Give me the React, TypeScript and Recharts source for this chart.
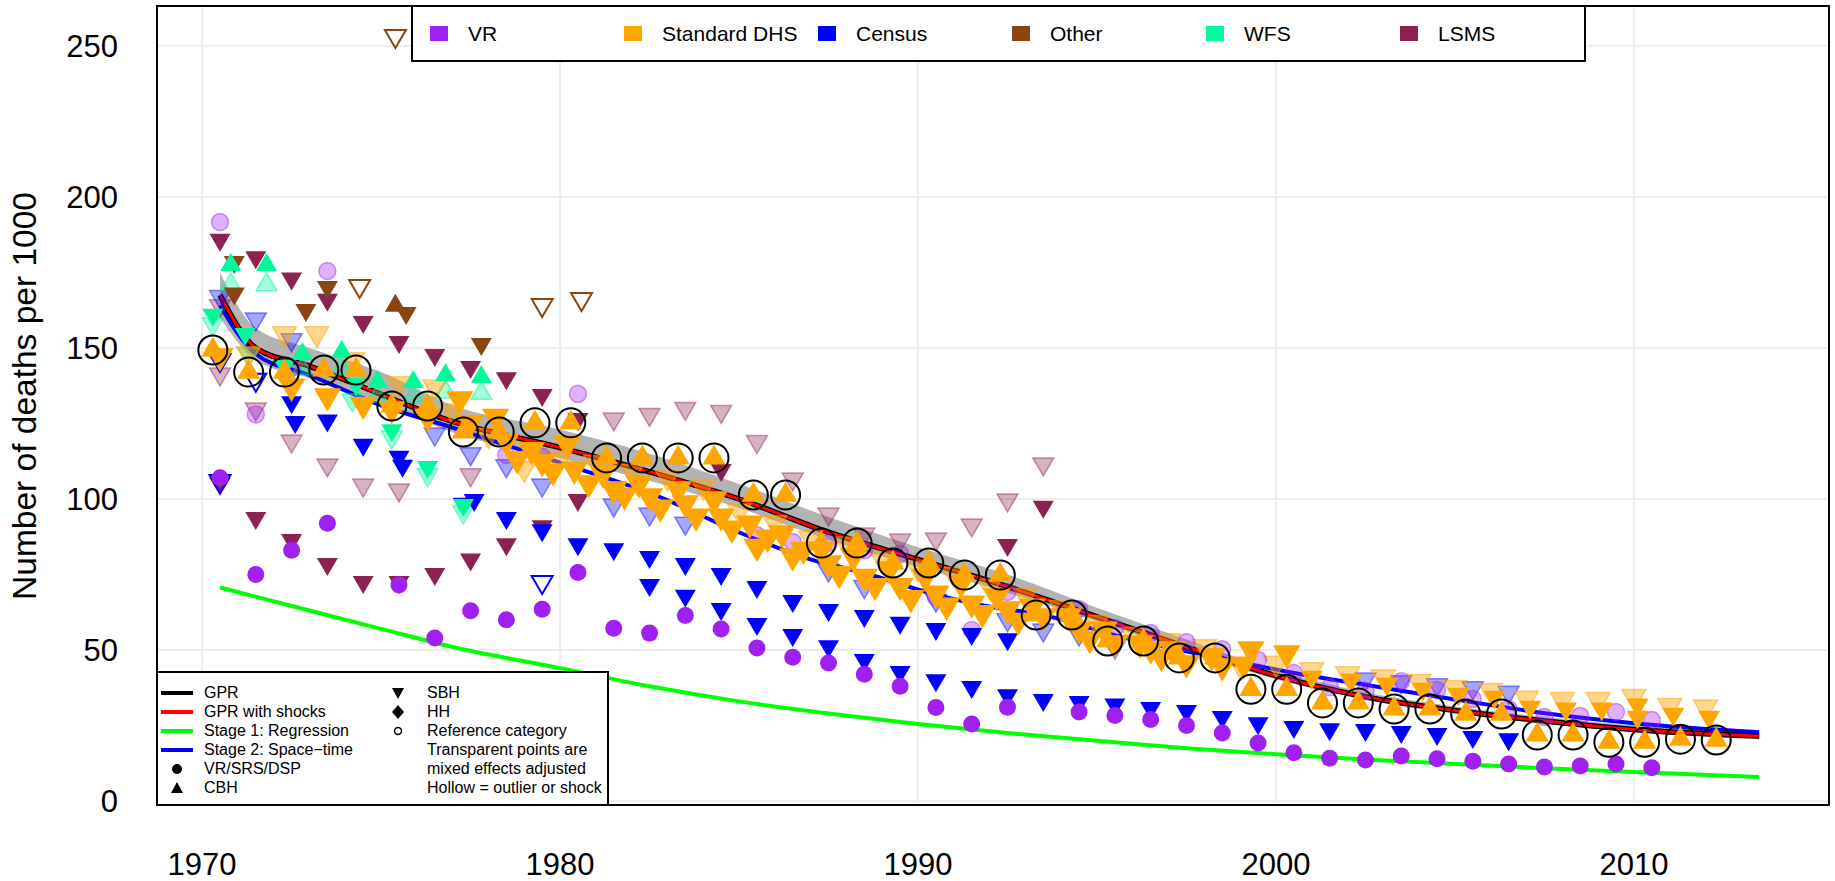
import React from "react";
import { ComposedChart, XAxis, YAxis, CartesianGrid, Line, Area, Scatter } from "recharts";

type Pt = [number, number];

const xTicks = [1970, 1980, 1990, 2000, 2010];
const yTicks = [0, 50, 100, 150, 200, 250];

// fitted curves
const gpr: Pt[] = [
  [1970.5, 167.5], [1971.5, 150], [1973, 144], [1974.3, 138], [1976.9, 126], [1980, 117],
  [1982.5, 109], [1985, 100], [1987.5, 89], [1990, 80], [1992.5, 71], [1995, 61],
  [1997.5, 51], [2000, 41.5], [2002.5, 34.5], [2005, 30], [2007.5, 26.5], [2010, 23.7], [2013.5, 21.5],
];
const gprShocks: Pt[] = [
  [1970.5, 167.5], [1971.5, 150], [1973, 144], [1974.3, 138], [1976.9, 126], [1980, 117],
  [1982.5, 109], [1985, 100], [1987.5, 89], [1990, 80], [1992.5, 71], [1995, 61],
  [1997.5, 51], [2000, 41.5], [2002.5, 34.5], [2005, 30], [2007.5, 26.5], [2010, 23.7], [2013.5, 21.5],
];
const stage1: Pt[] = [
  [1970.5, 70.7], [1972.7, 64], [1975, 57], [1977, 51], [1980, 44], [1982.5, 38], [1985, 33],
  [1987.5, 29], [1990, 25.5], [1992.5, 22.5], [1995, 20], [1997.5, 17.5], [2000, 15.5],
  [2002.5, 13.8], [2005, 12.3], [2007.5, 10.9], [2010, 9.6], [2013.5, 8.0],
];
const stage2: Pt[] = [
  [1970.5, 164], [1971.5, 148], [1973, 141], [1975, 131], [1976.9, 124], [1980, 112], [1982.5, 102],
  [1985.3, 87.5], [1987, 80], [1988.5, 75.5], [1990.3, 69], [1991.5, 65.5], [1993.7, 61],
  [1995.7, 54.3], [1998.7, 46.7], [2000.7, 42], [2002.5, 38.5], [2004.6, 34.4], [2007.9, 28.5],
  [2010, 25.8], [2013.5, 22.8],
];
const bandYears = [1970.5, 1971.5, 1973, 1975, 1977, 1980, 1982.5, 1985, 1987.5, 1990, 1992.5, 1995, 1997.5, 2000, 2002.5, 2005, 2007.5, 2010, 2013.5];
const bandLow = [160, 146, 140, 132, 122, 113.5, 106, 97, 86.5, 77.5, 69, 59.5, 49.5, 40.3, 33.5, 29, 25.6, 22.8, 20.5];
const bandHigh = [175, 156.5, 150, 142, 131, 123, 115, 105, 94, 84, 75, 64, 53.5, 43.3, 36, 31.3, 27.8, 25, 22.8];

// VR
const vrSolid: Pt[] = [
  [1970.5, 107], [1971.5, 75], [1972.5, 83], [1973.5, 92], [1975.5, 71.5], [1976.5, 54], [1977.5, 63],
  [1978.5, 60], [1979.5, 63.5], [1980.5, 75.7], [1981.5, 57.2], [1982.5, 55.6], [1983.5, 61.4],
  [1984.5, 57], [1985.5, 50.7], [1986.5, 47.6], [1987.5, 45.7], [1988.5, 42], [1989.5, 38],
  [1990.5, 31], [1991.5, 25.5], [1992.5, 31.1], [1994.5, 29.5], [1995.5, 28.3], [1996.5, 27],
  [1997.5, 25], [1998.5, 22.5], [1999.5, 19.2], [2000.5, 16], [2001.5, 14.2], [2002.5, 13.6],
  [2003.5, 14.9], [2004.5, 14], [2005.5, 13.2], [2006.5, 12.3], [2007.5, 11.3], [2008.5, 11.6],
  [2009.5, 12.3], [2010.5, 11],
];
const vrAdj: Pt[] = [
  [1970.5, 191.7], [1971.5, 128], [1972.5, 143.4], [1973.5, 175.5], [1978.5, 114.6], [1979.5, 114],
  [1980.5, 134.8], [1985.5, 88], [1986.5, 85.8], [1987.5, 85.4], [1988.5, 83], [1989.5, 81.8],
  [1990.5, 67.5], [1991.5, 56.6], [1992.5, 69.2], [1994.5, 63.6], [1995.5, 57.3], [1996.5, 55.6],
  [1997.5, 52.6], [1998.5, 50.3], [1999.5, 46.7], [2000.5, 42.4], [2001.5, 37.7], [2002.5, 36.4],
  [2003.5, 39.7], [2004.5, 36.8], [2005.5, 33.8], [2006.5, 30.5], [2007.5, 27.8], [2008.5, 28.2],
  [2009.5, 29.5], [2010.5, 26.8],
];

// Census
const censusSolid: Pt[] = [
  [1972.5, 131], [1972.6, 124.5], [1973.5, 125], [1974.5, 117], [1975.5, 113], [1975.6, 110],
  [1977.6, 98.7], [1977.3, 97.4], [1978.5, 92.7], [1979.5, 88.7], [1980.5, 84], [1981.5, 82.4],
  [1982.5, 79.8], [1982.5, 70.5], [1983.5, 77.5], [1983.5, 67], [1984.5, 74.2], [1984.5, 62.6],
  [1985.5, 69.9], [1985.5, 57.6], [1986.5, 65.2], [1986.5, 54], [1987.5, 62.3], [1987.5, 50.3],
  [1988.5, 60.3], [1988.5, 45.7], [1989.5, 58], [1989.5, 41.7], [1990.5, 56], [1990.5, 39],
  [1991.5, 54.3], [1991.5, 36.8], [1992.5, 52.6], [1992.5, 34], [1993.5, 32.5], [1994.5, 31.8],
  [1995.5, 31], [1996.5, 29.8], [1997.5, 28.8], [1998.5, 26.8], [1999.5, 24.8], [2000.5, 23.5],
  [2001.5, 22.8], [2002.5, 22.5], [2003.5, 21.9], [2004.5, 21.2], [2005.5, 20.2], [2006.5, 19.5],
];
const censusAdj: Pt[] = [
  [1970.5, 166], [1971.5, 158.6], [1972.5, 151.7], [1976.5, 120.5], [1977.5, 114], [1978.5, 110],
  [1979.5, 103.6], [1981.5, 97], [1982.5, 94], [1983.5, 91], [1987.5, 75.5], [1988.5, 70],
  [1990.5, 65.5], [1992.5, 59], [1993.5, 55.6], [1994.5, 54.3], [1995.5, 50], [2002.5, 39.4],
  [2003.5, 38.5], [2004.5, 37.5], [2005.5, 36.5], [2006.5, 35],
];
const censusHollow: Pt[] = [[1970.5, 145], [1970.5, 105], [1971.5, 138.5], [1979.5, 71.5]];

// LSMS
const lsmsSolid: Pt[] = [
  [1970.5, 184.8], [1970.5, 104], [1971.5, 179], [1971.5, 92.7], [1972.5, 172], [1972.5, 85.4],
  [1973.5, 165], [1973.5, 77.5], [1974.5, 157.6], [1974.5, 71.5], [1975.5, 151], [1975.5, 71.5],
  [1976.5, 146.7], [1976.5, 74.2], [1977.5, 142.7], [1977.5, 79], [1978.5, 139], [1978.5, 84],
  [1979.5, 133.4], [1979.5, 90], [1980.5, 125.5], [1980.5, 98.7], [1984.5, 108.6], [1992.5, 83.8],
  [1993.5, 96.4],
];
const lsmsAdj: Pt[] = [
  [1970.5, 163], [1970.5, 140.4], [1971.5, 128.8], [1972.5, 118.2], [1973.5, 110.3], [1974.5, 103.6],
  [1975.5, 102], [1977.5, 107], [1981.5, 125.5], [1982.5, 127], [1983.5, 129], [1984.5, 128],
  [1985.5, 118], [1986.5, 105.6], [1987.5, 94], [1988.5, 87.4], [1989.5, 85.4], [1990.5, 85.8],
  [1991.5, 90.4], [1992.5, 98.7], [1993.5, 110.6],
];

// Other
const otherSolid: Pt[] = [[1970.9, 177.5], [1970.9, 167], [1972.9, 161.6], [1973.5, 169.2], [1975.7, 160.6], [1977.8, 150.3]];
const otherUp: Pt[] = [[1975.4, 164]];
const otherHollow: Pt[] = [[1974.4, 169.5], [1975.4, 252.3], [1979.5, 163.2], [1980.6, 165.2]];

// WFS
const wfsUp: Pt[] = [[1970.8, 177.5], [1971.8, 177.5], [1972.8, 148], [1973.9, 148.7], [1974.9, 138.7], [1975.9, 138.7], [1976.8, 141], [1977.8, 140.4]];
const wfsUpAdj: Pt[] = [[1970.8, 170.9], [1971.8, 170.9], [1972.8, 143], [1973.9, 143], [1974.9, 134], [1975.9, 134], [1976.8, 135.4], [1977.8, 135]];
const wfsDown: Pt[] = [[1970.3, 160], [1971.2, 153.6], [1972.3, 143], [1974.3, 137], [1975.3, 121.8], [1976.3, 109.6], [1977.3, 97]];
const wfsDownAdj: Pt[] = [[1970.3, 157], [1971.3, 147], [1974.2, 131.8], [1975.3, 119.5], [1976.3, 107], [1977.3, 94.7]];

// Standard DHS, summary birth histories (earlier and later surveys)
const dhsSbhEarly: Pt[] = [
  [1970.5, 146], [1972.5, 136], [1973.5, 132.8], [1974.5, 130], [1975.3, 128.5], [1976.3, 126],
  [1977.2, 131.8], [1977.5, 124], [1978.2, 126], [1978.5, 118], [1978.8, 112], [1979.2, 115],
  [1979.5, 111], [1979.8, 108], [1980.2, 117], [1980.4, 108.6], [1980.8, 104], [1981.2, 107.3],
  [1981.5, 102], [1981.8, 100], [1982.2, 104], [1982.5, 99.7], [1982.8, 96], [1983.3, 102],
  [1983.5, 97.4], [1983.8, 93], [1984.3, 98.7], [1984.5, 93], [1984.8, 89], [1985.3, 90.7],
  [1985.5, 83], [1985.8, 86], [1986.2, 87.4], [1986.5, 79.8], [1986.8, 82], [1987.3, 82],
  [1987.5, 77.5], [1987.8, 74], [1988.2, 79.8], [1988.5, 73], [1988.8, 70], [1989.2, 75.5],
  [1989.5, 70], [1989.8, 66], [1990.2, 73], [1990.5, 67.5], [1990.8, 63.5], [1991.2, 70.9],
  [1991.5, 64.2], [1991.8, 61], [1992.2, 66.6], [1992.5, 62.3], [1992.8, 58.5], [1993.2, 63.2],
  [1993.5, 60], [1994.2, 60], [1994.5, 55.6], [1994.8, 52.5], [1995.2, 55.6], [1995.5, 51],
  [1996.2, 51], [1996.5, 49], [1996.8, 46.5], [1997.1, 49], [1997.5, 44.4], [1998.2, 46.7],
  [1998.5, 43.4], [1999.3, 49], [1999.1, 44], [2000.3, 47.7],
];
const dhsSbhLate: Pt[] = [
  [2001.0, 40], [2002.1, 39], [2003.1, 37.7], [2004.1, 36], [2005.1, 34.4], [2006.1, 33.4],
  [2007.1, 30.1], [2008.1, 29.5], [2009.1, 29.5], [2010.1, 30.8], [2010.1, 26.8], [2011.1, 27.8],
  [2012.1, 26.8],
];
const dhsSbhAdj: Pt[] = [
  [1971.3, 147], [1972.3, 153.6], [1973.2, 153.6], [1974.2, 145], [1975.5, 137], [1976.5, 136],
  [1977.0, 128], [1978.0, 120], [1979.0, 109], [1980.0, 112], [1981.0, 111], [1982.0, 108],
  [1983.0, 106], [1984.0, 103], [1985.0, 95], [1986.0, 91], [1987.0, 86], [1988.0, 84],
  [1989.0, 79], [1990.0, 76], [1991.0, 74], [1992.0, 70], [1993.0, 67], [1994.0, 63], [1995.0, 58],
  [1996.0, 54], [1997.0, 52], [1998.0, 50], [1999.0, 44], [2000.0, 44.5], [2001.0, 42.4],
  [2002.0, 41], [2003.0, 40], [2004.0, 38.5], [2005.0, 36.5], [2006.0, 35.5], [2007.0, 33],
  [2008.0, 32.5], [2009.0, 32.5], [2010.0, 33.5], [2011.0, 30.5], [2012.0, 30],
];
// CBH reference category points
const dhsCbhRef: Pt[] = [
  [1970.3, 149.3], [1971.3, 142], [1972.3, 142], [1973.4, 142.7], [1974.3, 142.7], [1975.3, 130.8],
  [1976.3, 130.8], [1977.3, 122.2], [1978.3, 122.2], [1979.3, 125.2], [1980.3, 125.2], [1981.3, 113.6],
  [1982.3, 113.6], [1983.3, 113.6], [1984.3, 113.6], [1985.4, 101.3], [1986.3, 101.3], [1987.3, 85.4],
  [1988.3, 85.4], [1989.3, 78.8], [1990.3, 78.8], [1991.3, 74.8], [1992.3, 74.8], [1993.3, 61.6],
  [1994.3, 61.6], [1995.3, 53], [1996.3, 53], [1997.3, 47.4], [1998.3, 47.4], [1999.3, 37],
  [2000.3, 37], [2001.3, 32.5], [2002.3, 32.5], [2003.3, 30.5], [2004.3, 30.5], [2005.3, 28.8],
  [2006.3, 28.8], [2007.3, 21.9], [2008.3, 21.9], [2009.3, 19.5], [2010.3, 19.5], [2011.3, 20.5],
  [2012.3, 20.2],
];

const topLegend = [
  { label: "VR", color: "#A020F0" },
  { label: "Standard DHS", color: "#FFA500" },
  { label: "Census", color: "#0000FF" },
  { label: "Other", color: "#8B4513" },
  { label: "WFS", color: "#00FA9A" },
  { label: "LSMS", color: "#8B2252" },
];

const xy = (a: Pt[]) => a.map(([x, y]) => ({ x, y }));
const band = bandYears.map((x, i) => ({ x, y: [bandLow[i], bandHigh[i]] }));

type Kind = "circle" | "up" | "down" | "ring";
interface MarkStyle { fill?: string; stroke?: string; fo?: number; so?: number; sw?: number; k?: number; }

const mark = (kind: Kind, s: MarkStyle) => (p: any) => {
  const { cx, cy } = p;
  if (cx == null || cy == null) return <g />;
  const k = s.k ?? 1;
  const common = {
    fill: s.fill ?? "none", stroke: s.stroke ?? "none",
    fillOpacity: s.fo ?? 1, strokeOpacity: s.so ?? 1, strokeWidth: s.sw ?? 1.5,
  };
  if (kind === "circle") return <circle cx={cx} cy={cy} r={8.5 * k} {...common} />;
  if (kind === "ring") return <circle cx={cx} cy={cy} r={14.5} {...common} />;
  const w = 10.5 * k;
  const pts = kind === "up"
    ? `${cx},${cy - 12 * k} ${cx - w},${cy + 6 * k} ${cx + w},${cy + 6 * k}`
    : `${cx},${cy + 9 * k} ${cx - w},${cy - 9 * k} ${cx + w},${cy - 9 * k}`;
  return <polygon points={pts} {...common} />;
};

const font = "'Liberation Sans', Arial, Helvetica, sans-serif";

const LegendLine = ({ color }: { color: string }) => (
  <svg width={34} height={8} style={{ display: "block" }}>
    <line x1={1} y1={4} x2={33} y2={4} stroke={color} strokeWidth={4} />
  </svg>
);

const Sym = ({ kind }: { kind: string }) => (
  <svg width={16} height={16} style={{ display: "block" }}>
    {kind === "dot" && <circle cx={8} cy={8} r={5} fill="#000" />}
    {kind === "up" && <polygon points="8,2 2,13 14,13" fill="#000" />}
    {kind === "down" && <polygon points="8,14 2,3 14,3" fill="#000" />}
    {kind === "diamond" && <polygon points="8,1 14,8 8,15 2,8" fill="#000" />}
    {kind === "ring" && <circle cx={8} cy={8} r={3.5} fill="none" stroke="#000" strokeWidth={1.5} />}
  </svg>
);

const leftRows = [
  { t: "GPR", line: "#000000" },
  { t: "GPR with shocks", line: "#FF0000" },
  { t: "Stage 1: Regression", line: "#00FF00" },
  { t: "Stage 2: Space\u2212time", line: "#0000FF" },
  { t: "VR/SRS/DSP", sym: "dot" },
  { t: "CBH", sym: "up" },
];
const rightRows = [
  { t: "SBH", sym: "down" },
  { t: "HH", sym: "diamond" },
  { t: "Reference category", sym: "ring" },
  { t: "Transparent points are" },
  { t: "mixed effects adjusted" },
  { t: "Hollow = outlier or shock" },
];

export default function App() {
  const tick = { fontSize: 31, fill: "#000", fontFamily: font };
  return (
    <div style={{ position: "absolute", left: 0, top: 0, width: 1835, height: 881, background: "#fff", fontFamily: font }}>
      <ComposedChart width={1835} height={881} margin={{ top: 6, right: 6, left: 0, bottom: 0 }}>
        <CartesianGrid stroke="#ededed" strokeWidth={2} horizontalValues={yTicks} verticalValues={xTicks} />
        <XAxis type="number" dataKey="x" domain={[1968.74, 2015.45]} allowDataOverflow ticks={xTicks}
          tickLine={false} axisLine={false} tickSize={0} tickMargin={48} height={76} tick={tick} />
        <YAxis type="number" dataKey="y" domain={[-1.3, 263.2]} allowDataOverflow ticks={yTicks}
          tickLine={false} axisLine={false} tickSize={0} tickMargin={39} width={157} tick={tick} />

        <Area data={band} dataKey="y" type="monotone" fill="#a6a6a6" fillOpacity={0.85} stroke="none" isAnimationActive={false} />

        <Scatter data={xy(lsmsAdj)} shape={mark("down", { fill: "#8B2252", stroke: "#8B2252", fo: 0.35, so: 0.45 })} isAnimationActive={false} />
        <Scatter data={xy(censusAdj)} shape={mark("down", { fill: "#0000FF", stroke: "#0000FF", fo: 0.35, so: 0.45 })} isAnimationActive={false} />
        <Scatter data={xy(wfsUpAdj)} shape={mark("up", { fill: "#00FA9A", stroke: "#00FA9A", fo: 0.35, so: 0.5 })} isAnimationActive={false} />
        <Scatter data={xy(wfsDownAdj)} shape={mark("down", { fill: "#00FA9A", stroke: "#00FA9A", fo: 0.35, so: 0.5 })} isAnimationActive={false} />
        <Scatter data={xy(dhsSbhAdj)} shape={mark("down", { fill: "#FFA500", stroke: "#FFA500", fo: 0.45, so: 0.5, k: 1.15 })} isAnimationActive={false} />
        <Scatter data={xy(vrAdj)} shape={mark("circle", { fill: "#A020F0", stroke: "#A020F0", fo: 0.35, so: 0.45 })} isAnimationActive={false} />

        <Scatter data={xy(lsmsSolid)} shape={mark("down", { fill: "#8B2252" })} isAnimationActive={false} />
        <Scatter data={xy(censusSolid)} shape={mark("down", { fill: "#0000FF" })} isAnimationActive={false} />
        <Scatter data={xy(censusHollow)} shape={mark("down", { stroke: "#0000FF", sw: 2 })} isAnimationActive={false} />
        <Scatter data={xy(otherSolid)} shape={mark("down", { fill: "#8B4513" })} isAnimationActive={false} />
        <Scatter data={xy(otherUp)} shape={mark("up", { fill: "#8B4513" })} isAnimationActive={false} />
        <Scatter data={xy(otherHollow)} shape={mark("down", { fill: "#fff", stroke: "#8B4513", sw: 2 })} isAnimationActive={false} />
        <Scatter data={xy(wfsUp)} shape={mark("up", { fill: "#00FA9A" })} isAnimationActive={false} />
        <Scatter data={xy(wfsDown)} shape={mark("down", { fill: "#00FA9A" })} isAnimationActive={false} />
        <Scatter data={xy(dhsSbhEarly)} shape={mark("down", { fill: "#FFA500", k: 1.3 })} isAnimationActive={false} />
        <Scatter data={xy(dhsSbhLate)} shape={mark("down", { fill: "#FFA500", k: 1.05 })} isAnimationActive={false} />
        <Scatter data={xy(vrSolid)} shape={mark("circle", { fill: "#A020F0" })} isAnimationActive={false} />

        <Line data={xy(stage1)} dataKey="y" type="monotone" stroke="#00FF00" strokeWidth={4} dot={false} isAnimationActive={false} />
        <Line data={xy(stage2)} dataKey="y" type="monotone" stroke="#0000FF" strokeWidth={4} dot={false} isAnimationActive={false} />
        <Line data={xy(gpr)} dataKey="y" type="monotone" stroke="#000000" strokeWidth={5.5} dot={false} isAnimationActive={false} />
        <Line data={xy(gprShocks)} dataKey="y" type="monotone" stroke="#FF0000" strokeWidth={3} dot={false} isAnimationActive={false} />

        <Scatter data={xy(dhsCbhRef)} shape={mark("up", { fill: "#FFA500", k: 1.1 })} isAnimationActive={false} />
        <Scatter data={xy(dhsCbhRef)} shape={mark("ring", { stroke: "#000", sw: 2 })} isAnimationActive={false} />
      </ComposedChart>

      {/* plot frame */}
      <div style={{ position: "absolute", left: 156, top: 5, width: 1674, height: 801, border: "2px solid #000", boxSizing: "border-box", pointerEvents: "none" }} />

      {/* y axis title */}
      <div style={{ position: "absolute", left: 24, top: 396, transform: "translate(-50%,-50%) rotate(-90deg)", whiteSpace: "nowrap", fontSize: 33.5, lineHeight: "33px" }}>
        Number of deaths per 1000
      </div>

      {/* source legend */}
      <div style={{ position: "absolute", left: 411, top: 5, width: 1175, height: 57, background: "#fff", border: "2px solid #000", boxSizing: "border-box" }}>
        {topLegend.map((d, i) => (
          <div key={d.label} style={{ position: "absolute", left: 17 + i * 194, top: 0, height: 53, display: "flex", alignItems: "center" }}>
            <div style={{ width: 18, height: 15, background: d.color }} />
            <span style={{ marginLeft: 20, fontSize: 21 }}>{d.label}</span>
          </div>
        ))}
      </div>

      {/* model legend */}
      <div style={{ position: "absolute", left: 156, top: 671, width: 453, height: 135, background: "#fff", border: "2px solid #000", boxSizing: "border-box", fontSize: 16 }}>
        {leftRows.map((r, i) => (
          <div key={r.t} style={{ position: "absolute", left: 2, top: 10 + i * 19, height: 19, display: "flex", alignItems: "center" }}>
            <div style={{ width: 34, display: "flex", justifyContent: "center" }}>
              {r.line ? <LegendLine color={r.line} /> : <Sym kind={r.sym as string} />}
            </div>
            <span style={{ marginLeft: 10 }}>{r.t}</span>
          </div>
        ))}
        {rightRows.map((r, i) => (
          <div key={r.t} style={{ position: "absolute", left: 232, top: 10 + i * 19, height: 19, display: "flex", alignItems: "center" }}>
            <div style={{ width: 16 }}>{r.sym ? <Sym kind={r.sym} /> : null}</div>
            <span style={{ marginLeft: 21 }}>{r.t}</span>
          </div>
        ))}
      </div>
    </div>
  );
}
